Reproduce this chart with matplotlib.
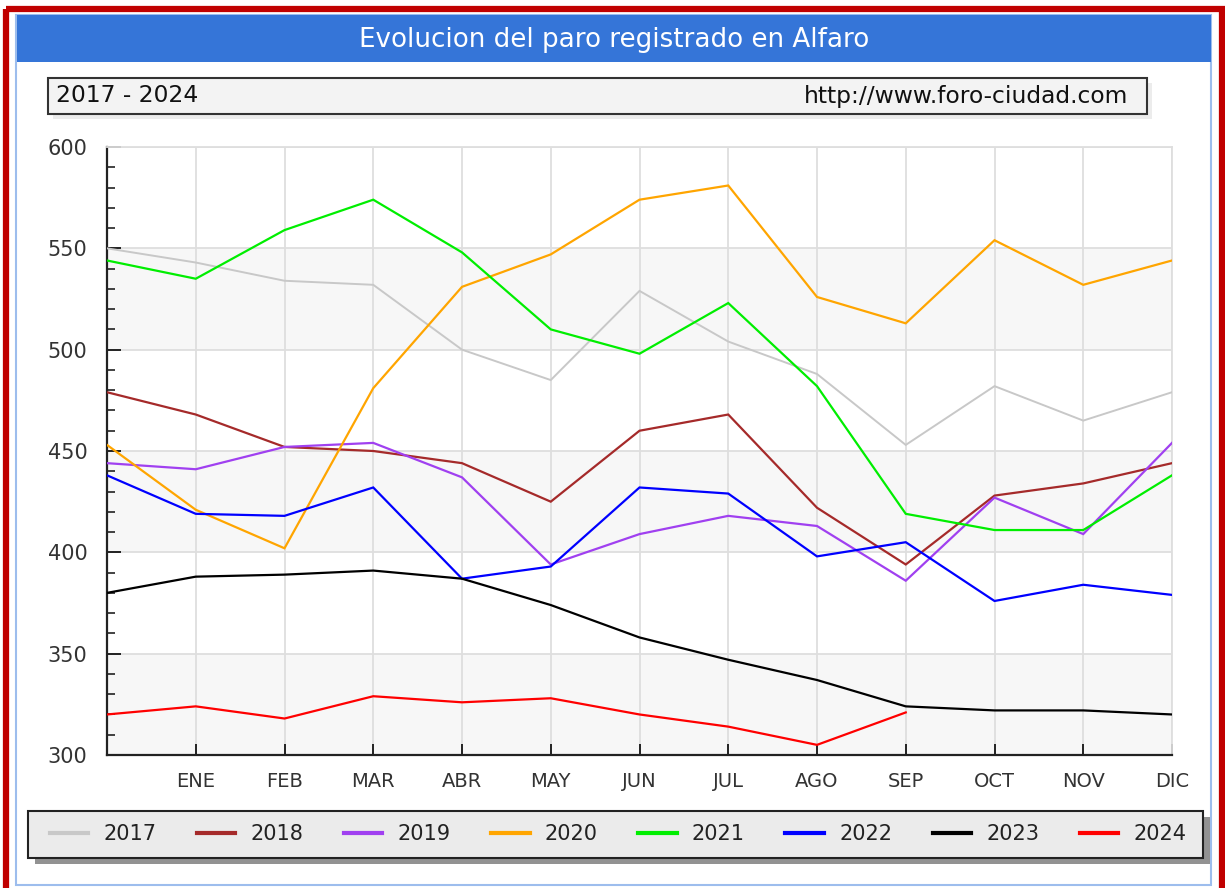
import matplotlib
matplotlib.use("Agg")
import matplotlib.pyplot as plt
from matplotlib.patches import Rectangle
import numpy as np

# ---- data ----
months = ["ENE", "FEB", "MAR", "ABR", "MAY", "JUN", "JUL", "AGO", "SEP", "OCT", "NOV", "DIC"]
years = ["2017", "2018", "2019", "2020", "2021", "2022", "2023", "2024"]
# first value = previous December (left edge), then ENE..DIC
v2017 = [550, 543, 534, 532, 500, 485, 529, 504, 488, 453, 482, 465, 479]
v2018 = [479, 468, 452, 450, 444, 425, 460, 468, 422, 394, 428, 434, 444]
v2019 = [444, 441, 452, 454, 437, 394, 409, 418, 413, 386, 427, 409, 454]
v2020 = [453, 421, 402, 481, 531, 547, 574, 581, 526, 513, 554, 532, 544]
v2021 = [544, 535, 559, 574, 548, 510, 498, 523, 482, 419, 411, 411, 438]
v2022 = [438, 419, 418, 432, 387, 393, 432, 429, 398, 405, 376, 384, 379]
v2023 = [380, 388, 389, 391, 387, 374, 358, 347, 337, 324, 322, 322, 320]
v2024 = [320, 324, 318, 329, 326, 328, 320, 314, 305, 321]
series = [v2017, v2018, v2019, v2020, v2021, v2022, v2023, v2024]
colors = ["#C8C8C8", "#A52A2A", "#A040F0", "#FFA500", "#00EE00", "#0000FF", "#000000", "#FF0000"]

W, H = 1225, 888
fig = plt.figure(figsize=(W / 100, H / 100), dpi=100)
fig.patch.set_facecolor("white")

# background / decoration layer in pixel coords
bg = fig.add_axes([0, 0, 1, 1], zorder=0)
bg.set_xlim(0, W)
bg.set_ylim(H, 0)
bg.axis("off")

# red outer frame
bg.add_patch(Rectangle((6, 9.5), W - 6 - 3, H + 20, fill=False, edgecolor="#C00000", linewidth=4.5))
# light blue inner border
bg.add_patch(Rectangle((16, 15), 1211 - 16, 885 - 15, fill=False, edgecolor="#9DBDED", linewidth=1.5))
# title bar
bg.add_patch(Rectangle((17, 15), 1211 - 17, 62 - 15, facecolor="#3575D8", edgecolor="none"))
bg.text(614, 40, "Evolucion del paro registrado en Alfaro", color="white", fontsize=18.8,
        ha="center", va="center", family="DejaVu Sans")

# subtitle box with shadow
bg.add_patch(Rectangle((53, 83), 1147 - 48, 114 - 78, facecolor="#E4E4E4", edgecolor="none", alpha=0.7))
bg.add_patch(Rectangle((48, 78), 1147 - 48, 114 - 78, facecolor="#F3F3F3", edgecolor="#333333", linewidth=1.5))
bg.text(56, 96, "2017 - 2024", fontsize=16.8, ha="left", va="center", color="#111111")
bg.text(1128, 96, "http://www.foro-ciudad.com", fontsize=16.8, ha="right", va="center", color="#111111")

# legend box with shadow
bg.add_patch(Rectangle((35, 817), 1203 - 28, 858 - 811, facecolor="#777777", edgecolor="none", alpha=0.8))
bg.add_patch(Rectangle((28, 811), 1203 - 28, 858 - 811, facecolor="#EBEBEB", edgecolor="#222222", linewidth=1.5))

# ---- main axes ----
left, right, top, bottom = 107, 1172, 147, 755
ax = fig.add_axes([left / W, 1 - bottom / H, (right - left) / W, (bottom - top) / H], zorder=1)
ax.set_facecolor("white")

for lo, hi in [(300, 350), (400, 450), (500, 550)]:
    ax.axhspan(lo, hi, color="#F7F7F7", zorder=0, lw=0)

for vals, col, yr in zip(series, colors, years):
    x = np.arange(len(vals))
    lw = 1.4 if yr == "2017" else 1.6
    ax.plot(x, vals, color=col, linewidth=lw, label=yr, zorder=3, solid_joinstyle="miter")

ax.set_xlim(0, 12)
ax.set_ylim(300, 600)
ax.set_xticks(np.arange(1, 13))
ax.set_xticklabels(months)
ax.set_yticks(np.arange(300, 601, 50))
ax.set_yticks(np.arange(300, 601, 10), minor=True)

ax.grid(True, which="major", color="#DEDEDE", linewidth=1.3, zorder=1)
ax.set_axisbelow(True)

ax.tick_params(axis="y", which="major", direction="in", length=10, width=1.4, color="#222222",
               pad=14, labelsize=15, labelcolor="#333333")
ax.tick_params(axis="y", which="minor", direction="in", length=6, width=1.2, color="#222222")
ax.tick_params(axis="x", which="major", direction="in", length=8, width=1.4, color="#222222",
               pad=12, labelsize=14, labelcolor="#333333")

for s in ["left", "bottom"]:
    ax.spines[s].set_color("#222222")
    ax.spines[s].set_linewidth(1.6)
for s in ["top", "right"]:
    ax.spines[s].set_color("#DEDEDE")
    ax.spines[s].set_linewidth(1.3)

leg = ax.legend(loc="center", bbox_to_anchor=(618 / W, 1 - 834 / H), bbox_transform=fig.transFigure,
                ncol=8, frameon=False, fontsize=15, handlelength=1.85, handletextpad=0.72,
                columnspacing=1.95, borderaxespad=0)
for line in leg.get_lines():
    line.set_linewidth(3)
for t in leg.get_texts():
    t.set_color("#222222")

fig.savefig("out.png", dpi=100)
